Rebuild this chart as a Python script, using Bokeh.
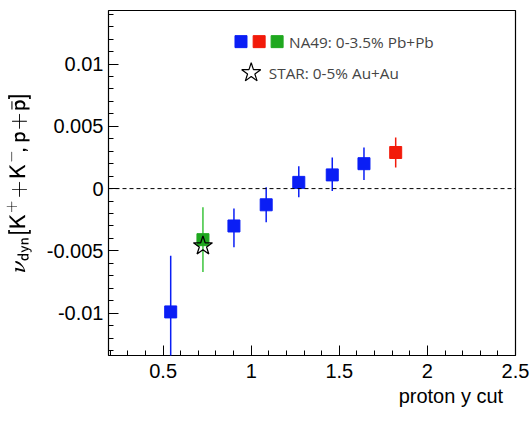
from bokeh.plotting import figure
from bokeh.models import Span, Label, ColumnDataSource, FixedTicker
from bokeh.embed import file_html
from bokeh.resources import INLINE

# NA49 points
cut = [0.543, 0.726, 0.902, 1.085, 1.27, 1.46, 1.64, 1.82]
nu = [-0.0099, -0.0041, -0.0030, -0.0013, 0.0005, 0.0011, 0.0020, 0.0029]
err_lo = [-0.0150, -0.0067, -0.0047, -0.0027, -0.0007, -0.0002, 0.0007, 0.0017]
err_hi = [-0.0054, -0.0015, -0.0016, 0.0001, 0.0018, 0.0025, 0.0033, 0.0041]
colors = ["#0a1ef5", "#1fa81f", "#0a1ef5", "#0a1ef5", "#0a1ef5", "#0a1ef5", "#0a1ef5", "#f21a0a"]
bar_colors = ["#0a1ef5", "#3cc43c", "#0a1ef5", "#0a1ef5", "#0a1ef5", "#0a1ef5", "#0a1ef5", "#f21a0a"]
# STAR point
star_cut = [0.726]
star_nu = [-0.0046]

p = figure(width=530, height=421, output_backend="svg", toolbar_location=None,
           x_range=(0.19, 2.5), y_range=(-0.0134, 0.0143),
           min_border_left=108, min_border_right=15, min_border_top=10, min_border_bottom=66)
p.grid.visible = False
p.outline_line_color = "black"
p.outline_line_width = 1.2

src = ColumnDataSource(dict(x=cut, y=nu, lo=err_lo, hi=err_hi, c=colors, bc=bar_colors))
p.segment(x0="x", y0="lo", x1="x", y1="hi", line_color="bc", line_width=1.5, source=src)
p.scatter("x", "y", size=12, marker="square", color="c", source=src)
p.scatter(star_cut, star_nu, size=20, marker="star", fill_color=None, line_color="black", line_width=1.3)

p.add_layout(Span(location=0, dimension="width", line_dash="4 3", line_color="black", line_width=1))

for ax in (p.xaxis[0], p.yaxis[0]):
    ax.major_tick_in = 10
    ax.major_tick_out = 0
    ax.minor_tick_in = 5
    ax.minor_tick_out = 0
    ax.axis_line_color = None
    ax.major_label_text_font = "Liberation Sans"
    ax.major_label_text_font_size = "15pt"
    ax.major_label_text_color = "black"
    ax.axis_label_text_font = "Liberation Sans"
    ax.axis_label_text_font_style = "normal"
    ax.axis_label_text_font_size = "15pt"
    ax.axis_label_text_color = "black"
p.xaxis.ticker = FixedTicker(ticks=[0.5, 1, 1.5, 2, 2.5],
                             minor_ticks=[0.2 + 0.1 * i for i in range(24)])
p.yaxis.ticker = FixedTicker(ticks=[-0.01, -0.005, 0, 0.005, 0.01],
                             minor_ticks=[-0.013 + 0.001 * i for i in range(28)])
p.yaxis.major_label_overrides = {-0.01: "-0.01", -0.005: "-0.005", 0: "0", 0.005: "0.005", 0.01: "0.01"}
p.xaxis.major_label_overrides = {0.5: "0.5", 1: "1", 1.5: "1.5", 2: "2", 2.5: "2.5"}
p.xaxis.major_label_standoff = 8

# pad on the left so the centred label ends near the right edge
p.xaxis.axis_label = "\u00a0" * 50 + "proton y cut"
p.xaxis.axis_label_align = "center"
p.xaxis.axis_label_standoff = 4
p.yaxis.axis_label = r"$$\nu_{\mathsf{dyn}}\mathsf{[K^{+}\!+\!K^{-}\!,p\!+\!\bar{p}]}$$"
p.yaxis.axis_label_text_font_size = "14pt"
p.yaxis.axis_label_standoff = 12

# legend
p.scatter([0.942, 1.045, 1.147], [0.0118, 0.0118, 0.0118], size=12, marker="square",
          color=["#0a1ef5", "#f21a0a", "#1fa81f"])
p.add_layout(Label(x=1.215, y=0.0118, text="NA49: 0-3.5% Pb+Pb", text_font="Open Sans",
                   text_font_size="11.5pt", text_baseline="middle"))
p.scatter([1.0], [0.0093], size=20, marker="star", fill_color=None, line_color="black", line_width=1.2)
p.add_layout(Label(x=1.1, y=0.0093, text="STAR: 0-5% Au+Au", text_font="Open Sans",
                   text_font_size="11.5pt", text_baseline="middle"))

open("out.html", "w").write(file_html(p, INLINE))
